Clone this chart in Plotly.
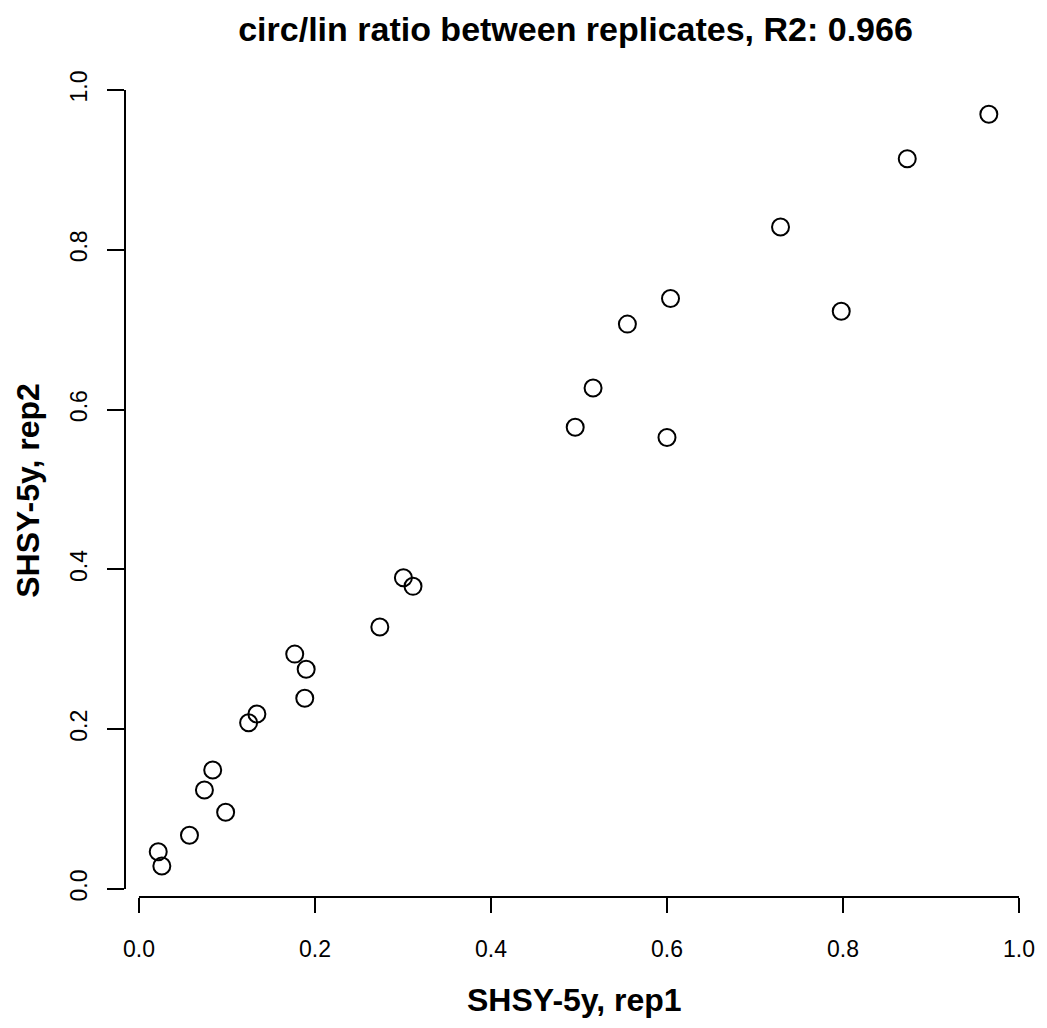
import plotly.graph_objects as go

rep1 = [0.9657, 0.873, 0.729, 0.604, 0.555, 0.798, 0.516, 0.4957, 0.600,
        0.3005, 0.3114, 0.2737, 0.177, 0.190, 0.1884,
        0.134, 0.1246, 0.0838, 0.0744, 0.0985, 0.0574, 0.0219, 0.026]
rep2 = [0.9696, 0.914, 0.8285, 0.739, 0.707, 0.723, 0.627, 0.578, 0.565,
        0.3896, 0.3788, 0.328, 0.294, 0.275, 0.2387,
        0.219, 0.208, 0.149, 0.124, 0.096, 0.0672, 0.0467, 0.0288]
tick_vals = [0.0, 0.2, 0.4, 0.6, 0.8, 1.0]
tick_text = ["0.0", "0.2", "0.4", "0.6", "0.8", "1.0"]

title_text = "circ/lin ratio between replicates, R2: 0.966"
xlab = "SHSY-5y, rep1"
ylab = "SHSY-5y, rep2"

FONT = "Liberation Sans, Arial, Helvetica, sans-serif"

fig = go.Figure()
fig.add_trace(go.Scatter(
    x=rep1, y=rep2, mode="markers",
    marker=dict(symbol="circle-open", size=17, color="black",
                line=dict(width=2, color="black")),
    showlegend=False, hoverinfo="skip"))

W, H = 1047, 1028
L, R, T, B = 125, 21, 84, 131

fig.update_layout(
    width=W, height=H,
    margin=dict(l=L, r=R, t=T, b=B, pad=0),
    paper_bgcolor="white", plot_bgcolor="white",
    font=dict(family=FONT, color="black", size=23),
    xaxis=dict(range=[-0.01586, 1.00453], showgrid=False, zeroline=False,
               showline=False, tickmode="array", tickvals=tick_vals,
               ticktext=tick_text, ticks="outside", ticklen=15, tickwidth=2,
               tickcolor="black", tickfont=dict(size=23),
               ticklabelstandoff=16),
    yaxis=dict(range=[-0.01001, 1.00751], showgrid=False, zeroline=False,
               showline=False, tickmode="array", tickvals=tick_vals,
               ticktext=tick_text, ticks="outside", ticklen=17, tickwidth=2,
               tickcolor="black", tickfont=dict(size=23), tickangle=-90,
               ticklabelstandoff=11),
    title=dict(text="<b>" + title_text + "</b>", x=(L + (W - R)) / 2 / W,
               xanchor="center", y=1 - 29 / H, yanchor="middle",
               yref="container", font=dict(size=34, family=FONT)),
)

# axis lines spanning first to last tick (R style)
fig.add_shape(type="line", xref="x", yref="paper", x0=0, x1=1, y0=0, y1=0,
              line=dict(color="black", width=2))
fig.add_shape(type="line", xref="paper", yref="y", x0=0, x1=0, y0=0, y1=1,
              line=dict(color="black", width=2))

ph = H - T - B
pw = W - L - R
fig.add_annotation(text="<b>" + xlab + "</b>", xref="paper", yref="paper",
                   x=0.5, y=-(1000 - (H - B)) / ph, xanchor="center",
                   yanchor="middle", showarrow=False,
                   font=dict(size=32, family=FONT))
fig.add_annotation(text="<b>" + ylab + "</b>", xref="paper", yref="paper",
                   x=-(L - 27) / pw, y=0.5, xanchor="center",
                   yanchor="middle", textangle=-90, showarrow=False,
                   font=dict(size=32, family=FONT))

fig.write_html("out.html", config={"displayModeBar": False},
               post_script="document.body.style.margin='0';document.body.style.padding='0';")
